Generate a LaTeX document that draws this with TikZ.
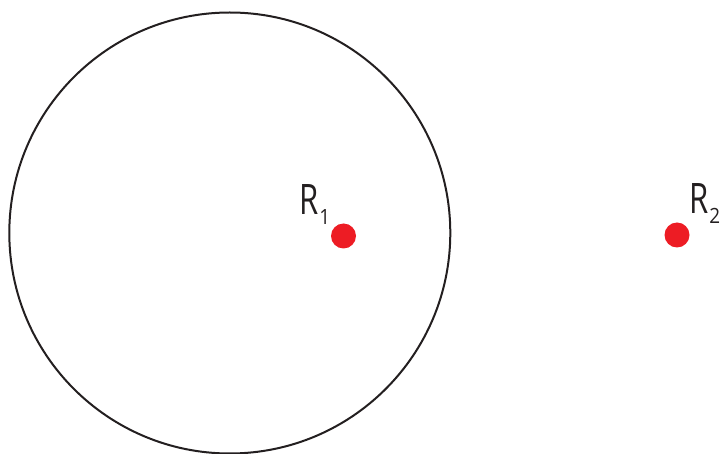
\documentclass[tikz,border=0pt]{standalone}
\usepackage{fontspec}
\setmainfont{Open Sans}
\definecolor{dotred}{HTML}{ED1C24}
\definecolor{ink}{HTML}{231F20}
\tikzset{
  ring/.style={circle, draw=ink, line width=2pt, minimum size=441pt, inner sep=0pt},
  reddot/.style={circle, fill=dotred, minimum size=25pt, inner sep=0pt},
  lbl/.style={anchor=base west, inner sep=0pt, text=ink, font=\fontsize{42}{42}\selectfont}
}
\newcommand{\sublbl}[2]{\scalebox{0.74}[1]{#1}\hspace{1pt}\raisebox{-10pt}{\scalebox{0.9}[1]{\fontsize{21}{21}\selectfont #2}}}
\begin{document}
\begin{tikzpicture}[x=1pt,y=-1pt]
  \useasboundingbox (0,0) rectangle (721,454);
  \node[ring] (c) at (229.8,233) {};
  \node[reddot] (r1) at (343.5,236) {};
  \node[reddot] (r2) at (677,235) {};
  \node[lbl] (l1) at (299,215) {\sublbl{R}{1}};
  \node[lbl] (l2) at (689,214) {\sublbl{R}{2}};
\end{tikzpicture}
\end{document}
